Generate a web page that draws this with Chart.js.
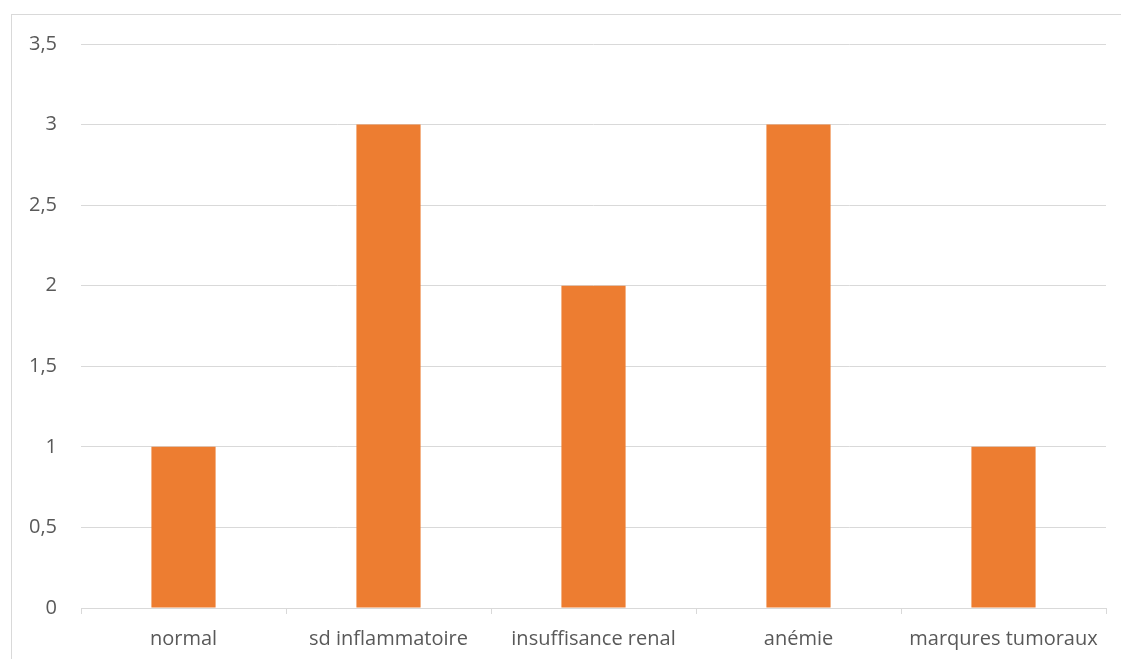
<!DOCTYPE html>
<html>
<head>
<meta charset="utf-8">
<script src="https://cdn.jsdelivr.net/npm/chart.js@4/dist/chart.umd.min.js"></script>
<style>
  html, body { margin: 0; padding: 0; background: #fff; overflow: hidden; }
  #wrap { position: relative; width: 1121px; height: 659px; }
  #frame {
    position: absolute; left: 11px; top: 14px; width: 1120px; height: 700px;
    border: 1px solid #d9d9d9; box-sizing: border-box;
  }
  canvas { position: absolute; left: 0; top: 0; }
</style>
</head>
<body>
<div id="wrap">
  <div id="frame"></div>
  <canvas id="chart" width="1121" height="659"></canvas>
</div>
<script>
// categories and counts
const categories = ["normal", "sd inflammatoire", "insuffisance renal", "anémie", "marqures tumoraux"];
const counts = [1, 3, 2, 3, 1];
const yTicks = [0, 0.5, 1, 1.5, 2, 2.5, 3, 3.5];

const textColor = "#595959";
const lineColor = "#d9d9d9";
const fontFamily = "'Open Sans', sans-serif";

new Chart(document.getElementById("chart"), {
  type: "bar",
  data: {
    labels: categories,
    datasets: [{
      data: counts,
      backgroundColor: "#ED7D31",
      borderWidth: 0,
      categoryPercentage: 1,
      barPercentage: 0.313
    }]
  },
  options: {
    responsive: false,
    animation: false,
    layout: { padding: { top: 44, right: 15, left: 0, bottom: 0 } },
    plugins: { legend: { display: false }, tooltip: { enabled: false } },
    scales: {
      x: {
        offset: true,
        grid: {
          offset: true,
          drawOnChartArea: false,
          drawTicks: true,
          tickLength: 6,
          color: lineColor
        },
        border: { display: true, color: lineColor, width: 1 },
        ticks: {
          color: textColor,
          font: { family: fontFamily, size: 20 },
          padding: 13,
          maxRotation: 0,
          autoSkip: false
        },
        afterFit(scale) { scale.height = 51; }
      },
      y: {
        min: 0,
        max: 3.5,
        afterBuildTicks(scale) {
          scale.ticks = yTicks.map(v => ({ value: v }));
        },
        grid: { color: lineColor, drawTicks: false, lineWidth: 1 },
        border: { display: false },
        ticks: {
          color: textColor,
          font: { family: fontFamily, size: 20 },
          padding: 24,
          callback: v => String(v).replace(".", ",")
        },
        afterFit(scale) { scale.width = 81; }
      }
    }
  }
});
</script>
</body>
</html>
